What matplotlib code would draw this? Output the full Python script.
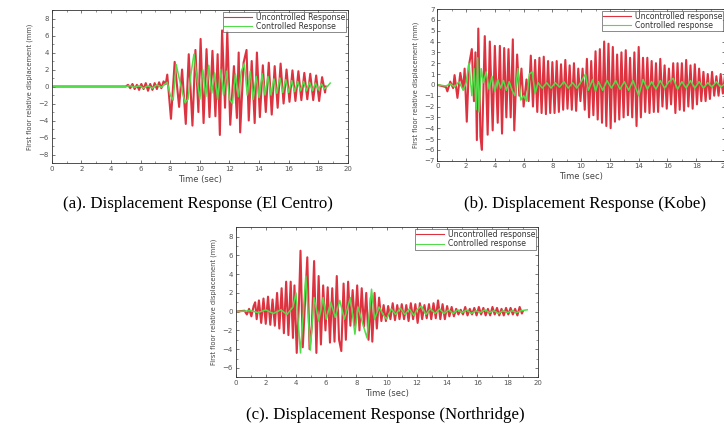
import numpy as np
import matplotlib
matplotlib.use("Agg")
from matplotlib import pyplot as plt
from matplotlib.ticker import MultipleLocator

# ---- El Centro: turning points (time s, displacement mm)
elc_unc_t = [0, 5.0, 5.15, 5.3, 5.45, 5.6, 5.75, 5.9, 6.05, 6.2, 6.35, 6.5, 6.65, 6.8, 6.95,
             7.1, 7.25, 7.4, 7.55, 7.7, 7.8, 8.05, 8.3, 8.6, 8.8, 9.05, 9.25, 9.5, 9.7, 9.9,
             10.05, 10.25, 10.45, 10.65, 10.85, 11.05, 11.2, 11.35, 11.5, 11.7, 11.85, 12.05,
             12.3, 12.5, 12.62, 12.72, 12.95, 13.15, 13.3, 13.5, 13.7, 13.85, 14.05, 14.25,
             14.45, 14.65, 14.85, 15.05, 15.25, 15.45, 15.65, 15.85, 16.05, 16.25, 16.45,
             16.65, 16.85, 17.05, 17.25, 17.45, 17.65, 17.85, 18.05, 18.25, 18.45, 18.5]
elc_unc_y = [0, 0, 0.2, -0.2, 0.3, -0.3, 0.2, -0.4, 0.3, -0.3, 0.4, -0.5, 0.3, -0.4, 0.4,
             -0.3, 0.5, -0.2, 0.6, 0.3, 1.4, -3.8, 2.9, -2.4, 2.0, -4.4, 3.8, -4.6, 4.3, -3.0,
             5.6, -4.3, 4.4, -3.6, 4.2, -3.5, 3.8, -5.7, 6.6, -2.5, 6.5, -4.5,
             2.4, -3.7, 4.0, -5.4, 2.8, 4.3, -4.0, 3.0, -4.3, 4.0, -3.6, 2.5,
             -3.0, 2.8, -3.3, 2.4, -2.5, 2.7, -2.0, 2.0, -1.8, 1.9, -1.7,
             1.8, -1.6, 1.6, -1.5, 1.5, -1.6, 1.3, -1.7, 1.1, -0.7, 0.0]
elc_con_t = [0, 5.0, 5.3, 5.6, 5.9, 6.2, 6.5, 6.8, 7.1, 7.4, 7.6, 7.8, 8.0, 8.2, 8.4, 8.6,
             8.8, 9.0, 9.2, 9.4, 9.6, 9.8, 10.0, 10.2, 10.4, 10.6, 10.8, 11.0, 11.2, 11.4,
             11.6, 11.8, 12.0, 12.2, 12.4, 12.6, 12.8, 13.0, 13.2, 13.4, 13.6, 13.8, 14.0,
             14.2, 14.4, 14.6, 14.8, 15.0, 15.2, 15.4, 15.6, 15.8, 16.0, 16.2, 16.4, 16.6,
             16.8, 17.0, 17.2, 17.4, 17.6, 17.8, 18.0, 18.2, 18.4, 18.6, 18.8]
elc_con_y = [0, 0, 0.1, -0.1, 0.1, -0.2, 0.1, -0.2, 0.2, -0.1, 0.2, 0.5, -1.0, -1.6, 2.6, 1.0,
             -0.5, -1.9, -1.5, 1.5, 3.8, 1.0, -1.5, 2.0, -1.2, 2.5, -0.8, 1.6, -1.5, 2.0,
             -1.0, 1.8, -1.5, -2.0, 1.5, -1.2, 1.8, 2.7, -1.0, 1.8, -1.5, 1.2, -1.3,
             1.5, -1.0, 1.2, -1.0, 0.9, -0.8, 1.0, -0.7, 0.8, -0.7, 0.7, -0.6, 0.6,
             -0.5, 0.6, -0.5, 0.5, -0.5, 0.4, -0.4, 0.3, -0.3, 0.0, 0.4]

# ---- Kobe
kobe_unc_t = [0, 0.6, 0.7, 0.9, 1.1, 1.2, 1.4, 1.6, 1.8, 1.9, 2.05, 2.2, 2.4, 2.55, 2.65,
              2.75, 2.85, 3.0, 3.1, 3.3, 3.5, 3.65, 3.85, 4.0, 4.2, 4.35, 4.5, 4.65, 4.8,
              4.95, 5.1, 5.25, 5.35, 5.55, 5.7, 5.85, 6.0, 6.2, 6.35, 6.5, 6.65, 6.8, 6.95,
              7.1, 7.25, 7.4, 7.55, 7.7, 7.85, 8.0, 8.15, 8.3, 8.45, 8.6, 8.75, 8.9, 9.05,
              9.2, 9.35, 9.5, 9.65, 9.8, 9.95, 10.1, 10.25, 10.4, 10.55, 10.7, 10.85, 11.0,
              11.15, 11.3, 11.45, 11.6, 11.75, 11.9, 12.05, 12.2, 12.35, 12.5, 12.65, 12.8,
              12.95, 13.1, 13.25, 13.4, 13.55, 13.7, 13.85, 14.0, 14.15, 14.3, 14.45, 14.6,
              14.75, 14.9, 15.05, 15.2, 15.35, 15.5, 15.65, 15.8, 15.95, 16.1, 16.25, 16.4,
              16.55, 16.7, 16.85, 17.0, 17.15, 17.3, 17.45, 17.6, 17.75, 17.9, 18.05, 18.2,
              18.35, 18.5, 18.65, 18.8, 18.95, 19.1, 19.25, 19.4, 19.55, 19.7, 19.85, 20.0]
kobe_unc_y = [0, -0.2, -0.6, 0.3, -0.3, 0.9, -1.2, 1.1, -0.4, 1.5, -3.4, 1.8, 3.3, -1.5, 3.0,
              -5.1, 5.2, -4.8, -6.0, 4.5, -4.6, 4.0, -4.2, 3.6, -3.5, 3.6, -4.5, 3.4, -3.0,
              3.3, -3.0, 4.2, -4.2, 2.8, -1.0, 1.5, -2.0, 0.5, -1.5, 2.7, -2.0, 2.3, -2.5,
              2.5, -2.6, 2.6, -2.7, 2.2, -2.6, 2.1, -2.6, 2.2, -2.5, 1.9, -2.3, 2.3, -2.2,
              1.8, -2.3, 2.0, -2.4, 1.5, -1.5, 1.5, -2.3, 2.4, -3.0, 2.2, -2.8, 3.1,
              -3.2, 3.3, -3.5, 4.0, -3.8, 3.8, -4.0, 3.5, -3.4, 2.8, -3.2, 3.0,
              -3.0, 3.2, -2.8, 2.5, -3.0, 3.0, -3.8, 3.5, -3.0, 2.5, -2.5, 2.5,
              -2.6, 2.2, -2.5, 2.0, -2.5, 2.4, -2.0, 1.8, -2.2, 1.5, -1.8, 2.0,
              -2.6, 2.0, -2.3, 2.0, -2.4, 2.3, -2.0, 1.8, -2.2, 1.9, -1.8, 1.5,
              -1.5, 1.2, -1.5, 1.0, -1.3, 1.2, -1.0, 0.8, -1.0, 1.0, -0.8, 0.9]
kobe_con_t = [0, 0.6, 0.9, 1.2, 1.5, 1.8, 2.0, 2.2, 2.4, 2.55, 2.7, 2.8, 2.9, 3.05, 3.2,
              3.4, 3.6, 3.8, 4.0, 4.2, 4.4, 4.6, 4.8, 5.0, 5.2, 5.4, 5.6, 5.8, 6.0, 6.2,
              6.4, 6.6, 6.8, 7.0, 7.3, 7.6, 7.9, 8.2, 8.5, 8.8, 9.1, 9.4, 9.7, 10.0, 10.3,
              10.5, 10.8, 11.0, 11.2, 11.5, 11.8, 12.1, 12.4, 12.7, 13.0, 13.3, 13.6, 14.0,
              14.3, 14.6, 14.9, 15.2, 15.5, 15.8, 16.1, 16.4, 16.7, 17.0, 17.3, 17.6, 17.9,
              18.2, 18.5, 18.8, 19.1, 19.4, 19.7, 20.0]
kobe_con_y = [0, -0.1, 0.1, -0.2, 0.3, -0.5, 0.2, 2.0, -1.0, 1.5, -2.3, 2.5, -2.5, 1.5, 0.2,
              1.2, -0.4, 0.8, -0.6, 0.5, -0.3, 0.4, -0.5, 0.3, -0.5, -1.0, 1.5, -1.4, -1.0, -1.5,
              1.0, 1.2, -0.8, 0.2, -0.3, 0.2, -0.3, 0.2, -0.2, 0.3, -0.3, 0.2, -0.3, 0.3, 1.0,
              -0.5, 0.5, -0.6, 0.3, -0.5, 0.4, -0.3, 0.4, -0.4, 0.3, -0.5, 0.4, -1.0,
              0.5, -0.4, 0.3, -0.4, 0.4, -0.3, 0.3, 0.6, -0.4, 0.3, -0.3, 0.4, -0.3,
              0.3, -0.3, 0.2, -0.2, 0.3, -0.2, 0.1]

# ---- Northridge
nor_unc_t = [0, 0.6, 0.75, 0.9, 1.05, 1.2, 1.3, 1.4, 1.55, 1.7, 1.85, 2.0, 2.15, 2.3, 2.45,
             2.6, 2.75, 2.9, 3.05, 3.2, 3.35, 3.5, 3.65, 3.8, 3.9, 4.05, 4.2, 4.3, 4.45, 4.6,
             4.75, 4.9, 5.05, 5.2, 5.35, 5.5, 5.65, 5.8, 5.95, 6.1, 6.25, 6.4, 6.55, 6.7,
             6.85, 7.0, 7.15, 7.3, 7.45, 7.6, 7.75, 7.9, 8.05, 8.2, 8.35, 8.5, 8.65, 8.8,
             8.95, 9.05, 9.2, 9.35, 9.5, 9.65, 9.8, 9.95, 10.1, 10.25, 10.4, 10.55, 10.7,
             10.85, 11.0, 11.15, 11.3, 11.45, 11.6, 11.75, 11.9, 12.05, 12.2, 12.35, 12.5,
             12.65, 12.8, 12.95, 13.1, 13.25, 13.4, 13.55, 13.7, 13.85, 14.0, 14.15, 14.3,
             14.45, 14.6, 14.75, 14.9, 15.05, 15.2, 15.35, 15.5, 15.65, 15.8, 15.95, 16.1,
             16.25, 16.4, 16.55, 16.7, 16.85, 17.0, 17.15, 17.3, 17.45, 17.6, 17.75, 17.9,
             18.05, 18.2, 18.35, 18.5, 18.65, 18.8, 18.95, 19.0]
nor_unc_y = [0, 0.1, -0.3, 0.3, -0.5, 0.6, 1.0, -0.8, 1.2, -1.2, 1.4, -1.3, 1.6, -1.4, 1.3,
             -1.5, 2.0, -1.8, 2.5, -2.3, 3.2, -2.5, 3.2, -2.8, 2.8, -4.4, 1.0, 6.5, -3.8, 1.0,
             5.8, -4.0, -1.5, 5.4, -4.4, 3.8, -3.5, 2.8, -2.0, 2.6, -3.3, 2.5, -3.2, 3.8,
             -3.0, -4.2, 3.0, -3.0, 3.2, -1.5, 2.3, -1.5, 2.8, -2.0, 2.5, -1.6, 2.0, -3.0,
             1.5, -3.2, 2.0, -1.8, 1.5, -1.0, 0.7, -1.0, 0.6, -0.8, 0.9, -0.9, 0.7,
             -0.8, 0.8, -0.8, 0.7, -1.0, 0.9, -0.8, 0.8, -1.2, 0.9, -0.8, 0.7,
             -0.7, 0.8, -0.8, 0.9, -0.7, 1.2, -0.8, 0.8, -0.8, 0.6, -0.5, 0.5,
             -0.5, 0.3, -0.3, 0.2, -0.3, 0.5, -0.4, 0.3, -0.3, 0.4, -0.4, 0.5,
             -0.3, 0.4, -0.4, 0.3, -0.4, 0.5, -0.3, 0.4, -0.4, 0.3, -0.4, 0.4,
             -0.3, 0.4, -0.3, 0.3, -0.4, 0.5, -0.2, 0.0]
nor_con_t = [0, 1.0, 1.5, 2.0, 2.5, 3.0, 3.4, 3.8, 4.0, 4.3, 4.65, 4.95, 5.2, 5.5, 5.8,
             6.0, 6.3, 6.6, 6.9, 7.2, 7.6, 7.9, 8.1, 8.4, 8.7, 9.0, 9.2, 9.5, 9.8, 10.0,
             10.3, 10.6, 10.9, 11.2, 11.5, 11.8, 12.0, 12.3, 12.6, 12.9, 13.2, 13.5, 13.8,
             14.1, 14.4, 14.7, 15.0, 15.3, 15.6, 15.9, 16.2, 16.5, 16.8, 17.1, 17.4, 17.7,
             18.0, 18.3, 18.6, 18.9, 19.3]
nor_con_y = [0, 0.1, -0.1, 0.2, -0.2, 0.2, -0.3, 0.5, 2.0, -4.4, 3.8, -4.1, 1.5, -1.0, 1.5,
             -0.8, 1.0, -0.6, 1.2, -0.8, 1.5, -2.4, 0.5, -1.2, -2.8, 2.4, -0.8, 0.5, -0.4, -0.8,
             0.3, -0.3, 0.4, -0.3, 0.3, -0.4, 0.2, 0.6, -0.3, 0.3, -0.2, 0.3, -0.2,
             0.2, -0.2, 0.2, -0.1, 0.2, -0.2, 0.1, -0.1, 0.2, -0.1, 0.1, -0.2, 0.1,
             -0.1, 0.1, -0.1, 0.1, 0.2]

captions = ["(a). Displacement Response (El Centro)",
            "(b). Displacement Response (Kobe)",
            "(c). Displacement Response (Northridge)"]
legends = [["Uncontrolled Response", "Controlled Response"],
           ["Uncontrolled response", "Controlled response"],
           ["Uncontrolled response", "Controlled response"]]

RED = "#dd3340"
GREEN = "#52dc4a"

fig = plt.figure(figsize=(7.24, 4.30), dpi=100)

panels = [
    ([0.0714, 0.6209, 0.4093, 0.3558], elc_unc_t, elc_unc_y, elc_con_t, elc_con_y,
     (-9, 9), 1, np.arange(-8, 9, 2)),
    ([0.604, 0.6263, 0.3974, 0.3527], kobe_unc_t, kobe_unc_y, kobe_con_t, kobe_con_y,
     (-7, 7), None, np.arange(-7, 8, 1)),
    ([0.3253, 0.1226, 0.4175, 0.3488], nor_unc_t, nor_unc_y, nor_con_t, nor_con_y,
     (-7, 9), 1, np.arange(-6, 9, 2)),
]

for i, (pos, ut, uy, ct, cy, ylim, ymin, yt) in enumerate(panels):
    ax = fig.add_axes(pos)
    ax.plot(ut, uy, color=RED, lw=1.5, label=legends[i][0])
    ax.plot(ct, cy, color=GREEN, lw=1.1, label=legends[i][1])
    ax.set_xlim(0, 20)
    ax.set_ylim(*ylim)
    ax.set_xticks(np.arange(0, 21, 2))
    ax.xaxis.set_minor_locator(MultipleLocator(1))
    ax.set_yticks(yt)
    if ymin:
        ax.yaxis.set_minor_locator(MultipleLocator(ymin))
    ax.tick_params(which="both", direction="in", top=True, right=True,
                   labelsize=5, labelcolor="#555555", color="#444444", pad=2)
    ax.tick_params(which="major", length=2.5, width=0.5)
    ax.tick_params(which="minor", length=1.5, width=0.4)
    for s in ax.spines.values():
        s.set_linewidth(0.6)
        s.set_color("#333333")
    ax.set_xlabel("Time (sec)", fontsize=6, color="#444444", labelpad=2)
    ax.set_ylabel("First floor relative displacement (mm)", fontsize=4.8,
                  color="#444444", labelpad=4)
    leg = ax.legend(loc="upper right", fontsize=5.6, frameon=True, fancybox=False,
                    borderaxespad=0.2, handlelength=3.6, borderpad=0.15,
                    labelspacing=0.05, handletextpad=0.5)
    leg.get_frame().set_edgecolor("#333333")
    leg.get_frame().set_linewidth(0.5)
    for line in leg.get_lines():
        line.set_linewidth(0.8)
    for txt in leg.get_texts():
        txt.set_color("#333333")

fig.text(0.2735, 0.5256, captions[0], ha="center", va="center",
         family="Liberation Serif", fontsize=12.2)
fig.text(0.808, 0.5256, captions[1], ha="center", va="center",
         family="Liberation Serif", fontsize=12.2)
fig.text(0.5318, 0.0349, captions[2], ha="center", va="center",
         family="Liberation Serif", fontsize=12.2)

fig.savefig("out.png", dpi=100)
